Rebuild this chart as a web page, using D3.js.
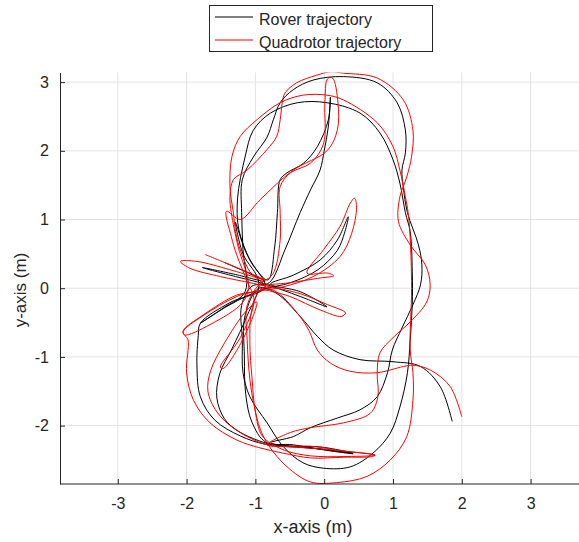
<!DOCTYPE html>
<html>
<head>
<meta charset="utf-8">
<script src="https://cdn.jsdelivr.net/npm/d3@7"></script>
<style>
  body { margin: 0; background: #fff; }
  text { font-family: "Liberation Sans", Arial, Helvetica, sans-serif; fill: #262626; }
</style>
</head>
<body>
<div id="chart"></div>
<script>
// rover path (x, y in metres)
const roverPath = [
  [-1.44,0.37],[-1.10,0.22],[-0.86,0.10],
  [-1.29,0.20],[-1.77,0.30],[-1.29,0.17],[-0.86,0.06],
  [-0.35,-0.12],[0.04,-0.27],[-0.35,-0.05],[-0.78,0.06],
  [-0.45,0.19],[-0.06,0.41],[0.19,0.70],[0.35,1.04],
  [0.30,0.82],[0.19,0.55],[-0.09,0.27],[-0.49,0.08],[-0.90,-0.02],
  [-1.37,-0.24],[-1.80,-0.51],[-1.47,-0.29],[-1.15,-0.05],
  [-1.18,0.56],[-1.20,1.10],[-1.19,1.58],[-1.03,1.91],[-0.83,2.20],[-0.74,2.45],[-0.64,2.70],[-0.45,2.89],[-0.16,3.03],[0.28,3.08],[0.77,2.99],[1.06,2.70],[1.18,2.30],[1.18,1.97],[1.13,1.72],[1.15,1.47],[1.21,1.10],[1.37,0.63],[1.42,0.34],[1.40,0.05],[1.29,-0.24],[1.13,-0.58],[0.99,-0.90],[0.92,-1.23],[0.77,-1.58],[0.52,-1.77],[0.19,-1.89],[-0.20,-2.03],[-0.45,-2.16],[-0.78,-2.25],
  [-0.45,-2.30],[-0.06,-2.31],[0.42,-2.40],
  [0.09,-2.36],[-0.35,-2.31],[-0.86,-2.27],[-1.22,-2.15],[-1.59,-1.92],[-1.80,-1.58],[-1.85,-1.12],[-1.83,-0.69],[-1.80,-0.51],
  [-1.37,-0.21],[-0.86,0.02],
  [-1.08,0.41],[-1.24,0.85],[-1.26,1.30],[-1.15,1.91],[-1.03,2.30],[-0.78,2.55],[-0.39,2.70],[0.04,2.70],[0.52,2.55],[0.81,2.26],[1.00,1.87],[1.10,1.53],[1.18,1.10],[1.25,0.82],[1.28,0.24],[1.28,-0.24],[1.25,-0.75],[1.21,-1.23],[1.10,-1.73],[0.96,-2.11],[0.71,-2.40],[0.38,-2.60],[-0.01,-2.62],[-0.31,-2.54],[-0.60,-2.30],[-0.83,-1.96],[-1.08,-1.58],[-1.18,-1.23],[-1.19,-0.75],[-1.20,-0.25],[-1.05,0.03],
  [-0.80,0.08],[-0.57,0.56],[-0.35,1.10],[-0.20,1.43],[-0.06,1.72],[0.00,2.00],[0.06,2.35],[0.09,2.78],[0.06,2.45],[-0.10,2.06],[-0.30,1.82],[-0.54,1.68],[-0.64,1.58],[-0.68,1.10],[-0.72,0.60],[-0.82,0.12],
  [-1.10,0.45],[-1.29,0.96],[-1.18,0.50],[-0.95,0.08],
  [-1.12,-0.40],[-1.34,-0.88],[-1.52,-1.25],[-1.56,-1.60],[-1.45,-1.90],[-1.25,-2.08],[-0.95,-2.22],[-0.70,-2.29],[-0.30,-2.32],[0.05,-2.35],[0.42,-2.41],
  [0.10,-2.37],[-0.45,-2.28],[-0.85,-2.24],[-1.05,-1.95],[-1.14,-1.55],[-1.16,-1.00],[-1.15,-0.40],[-0.95,0.00],
  [-0.70,-0.07],[-0.35,-0.41],[-0.10,-0.70],[0.13,-0.90],[0.52,-1.04],[1.00,-1.07],[1.40,-1.14],[1.69,-1.44],[1.86,-1.94]
];

// quadrotor path
const quadPath = [
  [-1.73,0.49],[-1.27,0.30],[-0.86,0.12],
  [-1.27,0.24],[-1.85,0.39],[-2.09,0.39],[-1.95,0.29],[-1.51,0.17],[-1.03,0.07],
  [-0.35,-0.08],[0.05,-0.24],[0.31,-0.36],[0.25,-0.41],[-0.05,-0.32],[-0.50,-0.12],[-0.95,0.02],
  [-0.50,0.08],[-0.05,0.15],[0.14,0.18],[0.05,0.22],[-0.25,0.22],
  [-0.01,0.56],[0.23,0.90],[0.38,1.24],[0.44,1.31],[0.47,1.18],[0.40,0.80],[0.23,0.46],[-0.16,0.17],[-0.60,0.02],[-1.00,-0.05],
  [-1.27,-0.10],[-1.76,-0.39],[-2.05,-0.62],[-2.03,-0.68],[-1.66,-0.53],[-1.18,-0.20],[-1.10,0.05],
  [-1.25,0.60],[-1.35,1.10],[-1.37,1.33],[-1.32,1.58],[-1.12,1.72],[-0.83,2.02],[-0.69,2.21],[-0.64,2.45],[-0.61,2.70],[-0.57,2.84],[-0.40,2.99],[-0.11,3.10],[0.09,3.15],[0.28,3.13],[0.77,3.06],[1.15,2.74],[1.29,2.30],[1.27,1.92],[1.20,1.62],[1.10,1.33],[1.08,0.97],[1.25,0.63],[1.47,0.34],[1.54,0.05],[1.49,-0.20],[1.25,-0.49],[1.00,-0.72],[0.81,-0.94],[0.77,-1.23],[0.78,-1.58],[0.67,-1.82],[0.28,-1.96],[-0.20,-2.03],[-0.49,-2.10],[-0.83,-2.28],
  [-0.45,-2.30],[-0.20,-2.30],[0.28,-2.37],[0.74,-2.43],[0.70,-2.45],[0.28,-2.46],[-0.20,-2.47],
  [-0.60,-2.40],[-0.95,-2.32],[-1.27,-2.21],[-1.66,-1.96],[-1.90,-1.63],[-2.00,-1.23],[-1.98,-0.75],[-2.05,-0.64],[-1.76,-0.40],[-1.27,-0.12],[-0.86,0.02],
  [-1.08,0.24],[-1.27,0.73],[-1.32,1.10],[-1.37,1.48],[-1.34,1.92],[-1.22,2.21],[-0.98,2.45],[-0.64,2.70],[-0.31,2.81],[0.04,2.81],[0.28,2.74],[0.77,2.41],[1.00,2.06],[1.10,1.72],[1.18,1.33],[1.22,1.10],[1.25,0.73],[1.27,0.00],[1.25,-0.90],[1.29,-1.23],[1.29,-1.63],[1.20,-2.16],[0.96,-2.50],[0.62,-2.74],[0.18,-2.83],[-0.20,-2.82],[-0.54,-2.60],[-0.80,-2.30],[-0.93,-2.05],[-1.02,-1.70],[-1.08,-1.33],[-1.12,-0.75],[-1.12,-0.25],[-0.95,0.05],
  [-0.75,0.20],[-0.64,0.70],[-0.64,1.10],[-0.64,1.48],[-0.49,1.68],[-0.20,1.82],[-0.01,2.10],[0.01,2.70],[0.05,3.05],[0.12,3.06],[0.20,2.70],[0.19,2.30],[0.04,2.00],[-0.45,1.72],[-0.93,1.29],[-1.22,1.00],[-1.42,1.12],[-1.35,0.75],[-1.27,0.48],[-1.12,0.10],
  [-1.02,-0.18],[-1.22,-0.72],[-1.51,-1.15],[-1.47,-1.17],[-1.18,-0.74],[-0.98,-0.20],
  [-1.15,-0.35],[-1.45,-0.80],[-1.65,-1.20],[-1.69,-1.50],[-1.56,-1.80],[-1.30,-2.05],[-0.83,-2.28],[-0.45,-2.31],[0.28,-2.37],[0.74,-2.43],
  [0.30,-2.45],[-0.20,-2.44],[-0.60,-2.35],[-0.90,-2.15],[-1.00,-1.80],[-1.05,-1.30],[-1.08,-0.80],[-1.05,-0.30],[-0.90,0.00],
  [-0.70,-0.05],[-0.40,-0.35],[-0.22,-0.62],[-0.10,-0.90],[0.09,-1.09],[0.38,-1.21],[0.77,-1.23],[1.15,-1.14],[1.29,-1.12],[1.54,-1.19],[1.83,-1.43],[2.00,-1.87]
];

const xTicks = [-3, -2, -1, 0, 1, 2, 3];
const yTicks = [-2, -1, 0, 1, 2, 3];
const seriesNames = ["Rover trajectory", "Quadrotor trajectory"];
const seriesColors = ["#000000", "#ff0000"];

const width = 579, height = 542;
const svg = d3.select("#chart").append("svg")
  .attr("width", width).attr("height", height);

const x = d3.scaleLinear().domain([-3.84, 3.84]).range([60, 588.4]);
const y = d3.scaleLinear().domain([-2.85, 3.14]).range([484, 72.5]);

// grid
svg.append("g").selectAll("line").data(xTicks).enter().append("line")
  .attr("x1", d => x(d)).attr("x2", d => x(d))
  .attr("y1", y(-2.85)).attr("y2", y(3.14))
  .attr("stroke", "#e3e3e3").attr("stroke-width", 1);
svg.append("g").selectAll("line").data(yTicks).enter().append("line")
  .attr("x1", x(-3.84)).attr("x2", width)
  .attr("y1", d => y(d)).attr("y2", d => y(d))
  .attr("stroke", "#e3e3e3").attr("stroke-width", 1);

svg.append("clipPath").attr("id", "clip").append("rect")
  .attr("x", 60).attr("y", 72.5).attr("width", 530).attr("height", 412);

const line = d3.line()
  .x(d => x(d[0])).y(d => y(d[1]))
  .curve(d3.curveCatmullRom.alpha(0.5));

const plot = svg.append("g").attr("clip-path", "url(#clip)");
plot.append("path").datum(roverPath)
  .attr("d", line).attr("fill", "none")
  .attr("stroke", seriesColors[0]).attr("stroke-width", 1);
plot.append("path").datum(quadPath)
  .attr("d", line).attr("fill", "none")
  .attr("stroke", seriesColors[1]).attr("stroke-width", 1);

// axes
const fmt = d => String(d);
const xAxis = d3.axisBottom(x).tickValues(xTicks).tickFormat(fmt).tickSizeInner(-5).tickSizeOuter(0).tickPadding(14);
const yAxis = d3.axisLeft(y).tickValues(yTicks).tickFormat(fmt).tickSizeInner(-5).tickSizeOuter(0).tickPadding(11);

const gx = svg.append("g").attr("transform", `translate(0,${y(-2.85)})`).call(xAxis);
const gy = svg.append("g").attr("transform", `translate(${x(-3.84)},0)`).call(yAxis);
[gx, gy].forEach(g => {
  g.select(".domain").attr("stroke", "#262626").attr("stroke-width", 1);
  g.selectAll(".tick line").attr("stroke", "#262626");
  g.selectAll(".tick text").attr("font-size", 16).attr("fill", "#262626")
    .style("font-family", "'Liberation Sans', Arial, sans-serif");
});
gx.select(".domain").attr("d", `M60,0H${width}`);

svg.append("text").attr("x", 313).attr("y", 533)
  .attr("text-anchor", "middle").attr("font-size", 18).text("x-axis (m)");
svg.append("text")
  .attr("transform", `translate(26,${290}) rotate(-90)`)
  .attr("text-anchor", "middle").attr("font-size", 17).text("y-axis (m)");

// legend
const lg = svg.append("g");
lg.append("rect").attr("x", 209.5).attr("y", 5.5).attr("width", 223).attr("height", 46)
  .attr("fill", "#fff").attr("stroke", "#262626").attr("stroke-width", 1);
seriesNames.forEach((name, i) => {
  const ly = 17 + i * 23;
  lg.append("line").attr("x1", 215).attr("x2", 253).attr("y1", ly).attr("y2", ly)
    .attr("stroke", seriesColors[i]).attr("stroke-width", 1);
  lg.append("text").attr("x", 259).attr("y", ly + 8).attr("font-size", 16).text(name);
});
</script>
</body>
</html>
